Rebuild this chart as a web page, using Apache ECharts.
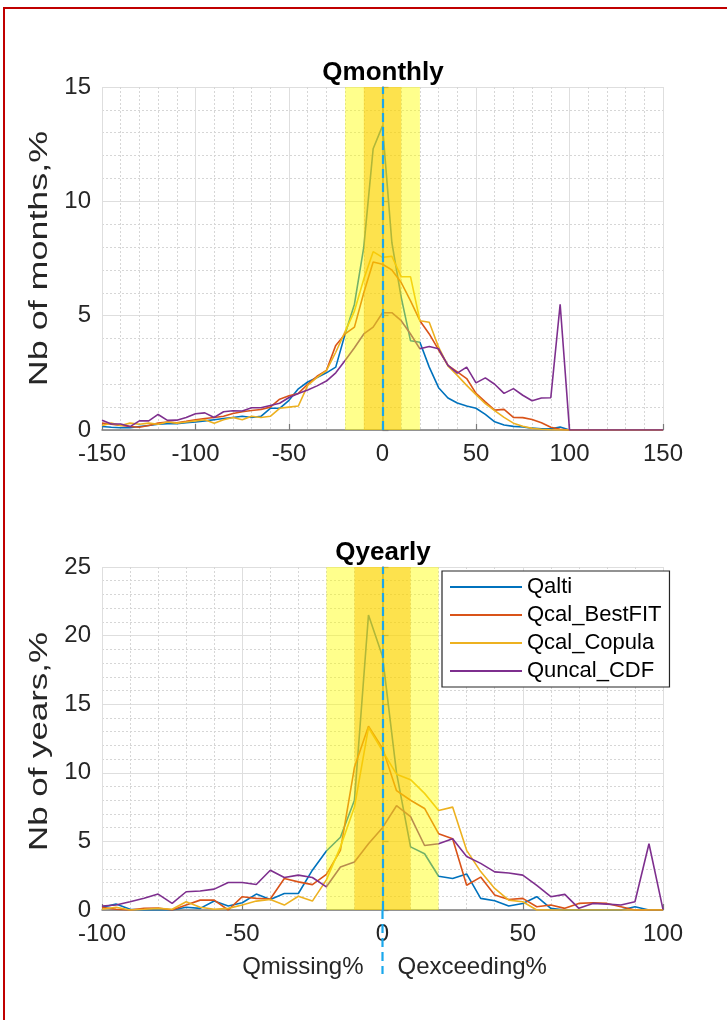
<!DOCTYPE html>
<html>
<head>
<meta charset="utf-8">
<script src="https://cdn.jsdelivr.net/npm/echarts@6/dist/echarts.min.js"></script>
<style>
html,body{margin:0;padding:0;background:#fff;}
#c{width:727px;height:1020px;}
</style>
</head>
<body>
<div id="c"></div>
<script>
// ---------- DATA ----------
const seriesNames = ['Qalti', 'Qcal_BestFIT', 'Qcal_Copula', 'Quncal_CDF'];

// Monthly: bins from -150 to 150, step 5
const monthlyX = [-150,-145,-140,-135,-130,-125,-120,-115,-110,-105,-100,-95,-90,-85,-80,-75,-70,-65,-60,-55,-50,-45,-40,-35,-30,-25,-20,-15,-10,-5,0,5,10,15,20,25,30,35,40,45,50,55,60,65,70,75,80,85,90,95,100,105,110,115,120,125,130,135,140,145,150];
const monthlyQalti = [0.15,0.12,0.1,0.1,0.15,0.2,0.25,0.28,0.28,0.32,0.35,0.4,0.45,0.5,0.55,0.6,0.55,0.6,0.95,0.95,1.3,1.8,2.1,2.3,2.5,2.75,4.2,5.5,8.0,12.3,13.3,8.2,5.8,3.9,3.84,2.75,1.85,1.4,1.18,1.05,0.95,0.68,0.36,0.22,0.16,0.13,0.08,0.05,0.05,0.13,0,0,0,0,0,0,0,0,0,0,0];
const monthlyBestFit = [0.3,0.25,0.2,0.15,0.12,0.2,0.3,0.35,0.32,0.38,0.45,0.5,0.55,0.6,0.72,0.8,0.85,0.9,1.0,1.35,1.5,1.6,2.0,2.35,2.6,3.7,4.2,4.5,6.0,7.35,7.25,7.0,6.45,5.65,4.78,4.2,3.5,2.83,2.54,2.25,1.6,1.23,0.87,0.9,0.55,0.54,0.46,0.32,0.12,0.03,0,0,0,0,0,0,0,0,0,0,0];
const monthlyCopula = [0.2,0.3,0.2,0.3,0.25,0.3,0.25,0.35,0.3,0.35,0.4,0.45,0.3,0.45,0.55,0.45,0.6,0.55,0.6,0.95,1.0,1.05,1.95,2.3,2.6,3.4,4.3,5.2,6.6,7.8,7.55,7.6,6.7,6.7,4.78,4.71,3.62,2.8,2.39,1.95,1.55,1.15,0.85,0.55,0.3,0.16,0.07,0.03,0.01,0,0,0,0,0,0,0,0,0,0,0,0];
const monthlyUncal = [0.43,0.26,0.26,0.15,0.4,0.4,0.68,0.42,0.43,0.55,0.71,0.75,0.55,0.8,0.84,0.83,0.97,0.97,1.07,1.17,1.42,1.6,1.75,1.93,2.14,2.5,3.04,3.6,4.2,4.5,5.13,5.13,4.78,4.2,3.55,3.65,3.55,2.83,2.49,2.75,2.06,2.28,2.0,1.6,1.81,1.52,1.28,1.4,1.41,5.5,0,0,0,0,0,0,0,0,0,0,0];

// Yearly: bins from -100 to 100, step 5
const yearlyX = [-100,-95,-90,-85,-80,-75,-70,-65,-60,-55,-50,-45,-40,-35,-30,-25,-20,-15,-10,-5,0,5,10,15,20,25,30,35,40,45,50,55,60,65,70,75,80,85,90,95,100];
const yearlyQalti = [0.2,0.43,0.05,0,0,0,0.2,0.12,0.65,0.29,0.53,1.16,0.77,1.2,1.2,2.9,4.3,5.3,8.0,21.5,18.5,10.0,4.6,4.1,2.46,2.3,2.63,0.85,0.68,0.29,0.48,0.97,0.12,0,0,0,0,0,0.24,0,0];
const yearlyBestFit = [0.19,0.05,0,0.12,0.14,0,0.36,0.72,0.72,0,0.97,0.85,0.8,2.3,2.05,1.85,2.6,4.35,10.4,13.4,11.8,8.7,8.0,7.4,5.56,5.2,1.8,2.4,1.09,0.77,0.85,0.24,0.36,0.12,0.48,0.53,0.48,0.24,0,0,0];
const yearlyCopula = [0.05,0.2,0,0.05,0.12,0.05,0.6,0.2,0.05,0.12,0.36,0.65,0.77,0.36,1.0,0.65,2.2,4.6,7.5,13.3,11.6,9.9,9.5,8.5,7.25,7.5,4.35,2.8,1.57,0.72,0.6,0,0,0,0,0,0,0,0,0,0];
const yearlyUncal = [0.29,0.36,0.6,0.85,1.16,0.48,1.33,1.38,1.52,2.0,2.0,1.86,2.9,2.37,2.54,2.37,1.69,3.14,3.5,4.83,6.0,7.6,6.8,4.7,4.83,5.2,3.9,3.4,2.78,2.7,2.54,1.8,0.97,1.14,0.12,0.48,0.43,0.36,0.6,4.83,0.05];

// Bands around zero (percent): [start, end]
const bands = [[-20, 20], [-10, 10]];

// ---------- STYLE ----------
const FONT = "'Liberation Sans', Arial, Helvetica, sans-serif";
const colors = ['#0072BD', '#D95319', '#EDB120', '#7E2F8E'];
const bandColors = ['rgba(255,255,0,0.45)', 'rgba(250,190,0,0.45)'];
const zeroLineColor = '#1AA7EC';
const textColor = '#262626';
const axisColor = '#7a7a7a';

function pairs(xs, ys) { return xs.map((x, i) => [x, ys[i]]); }

function xAxisCfg(idx, min, max) {
  return {
    gridIndex: idx, type: 'value', min: min, max: max, interval: 50,
    axisLine: { show: true, onZero: false, lineStyle: { color: axisColor, width: 1.5 } },
    axisTick: { show: true, inside: true, length: 6, lineStyle: { color: axisColor, width: 1.2 } },
    axisLabel: { fontSize: 24, color: textColor, fontFamily: FONT, margin: 12, showMinLabel: true, showMaxLabel: true },
    splitLine: { show: true, lineStyle: { color: '#dedede', width: 1 } },
    minorTick: { show: false, splitNumber: 5 },
    minorSplitLine: { show: true, lineStyle: { color: '#d6d6d6', width: 1, type: [2, 2] } }
  };
}
function yAxisCfg(idx, max) {
  return {
    gridIndex: idx, type: 'value', min: 0, max: max, interval: 5,
    axisLine: { show: true, lineStyle: { color: axisColor, width: 1.5 } },
    axisTick: { show: true, inside: true, length: 6, lineStyle: { color: axisColor, width: 1.2 } },
    axisLabel: { fontSize: 24, color: textColor, fontFamily: FONT, margin: 11 },
    splitLine: { show: true, lineStyle: { color: '#dedede', width: 1 } },
    minorTick: { show: false, splitNumber: 5 },
    minorSplitLine: { show: true, lineStyle: { color: '#d6d6d6', width: 1, type: [2, 2] } }
  };
}

function lineSeries(name, idx, xs, ys, color) {
  return {
    name: name, type: 'line', xAxisIndex: idx, yAxisIndex: idx,
    data: pairs(xs, ys), symbol: 'none', z: 2,
    lineStyle: { color: color, width: 1.6 }, itemStyle: { color: color },
    animation: false
  };
}

// translucent bands drawn on top of the lines (like the reference), plus dashed zero line
function bandSeries(idx) {
  return {
    type: 'custom', xAxisIndex: idx, yAxisIndex: idx, z: 10, silent: true,
    data: bands.map((b, k) => [b[0], b[1], k]),
    encode: { x: [0, 1] },
    renderItem: function (params, api) {
      const a = api.coord([api.value(0), 0]);
      const b = api.coord([api.value(1), 0]);
      const cs = params.coordSys;
      return {
        type: 'rect',
        shape: { x: a[0], y: cs.y, width: b[0] - a[0], height: cs.height },
        style: { fill: bandColors[api.value(2)] }
      };
    },
    markLine: {
      silent: true, symbol: ['none', 'none'], label: { show: false }, z: 12,
      lineStyle: { color: zeroLineColor, width: 2.2, type: [9, 5] },
      data: [{ xAxis: 0 }]
    },
    animation: false
  };
}

const chart = echarts.init(document.getElementById('c'), null, { renderer: 'canvas' });

const series = [];
[monthlyQalti, monthlyBestFit, monthlyCopula, monthlyUncal].forEach((a, k) =>
  series.push(lineSeries(seriesNames[k], 0, monthlyX, a, colors[k])));
series.push(bandSeries(0));
[yearlyQalti, yearlyBestFit, yearlyCopula, yearlyUncal].forEach((a, k) =>
  series.push(lineSeries(seriesNames[k], 1, yearlyX, a, colors[k])));
series.push(bandSeries(1));

const option = {
  backgroundColor: '#fff',
  animation: false,
  title: [
    { text: 'Qmonthly', left: 378, top: 55, textAlign: 'center',
      textStyle: { fontSize: 26, fontWeight: 'bold', color: '#000', fontFamily: FONT } },
    { text: 'Qyearly', left: 378, top: 535, textAlign: 'center',
      textStyle: { fontSize: 26, fontWeight: 'bold', color: '#000', fontFamily: FONT } }
  ],
  grid: [
    { left: 102, top: 87, width: 561, height: 343 },
    { left: 102, top: 567, width: 561, height: 343 }
  ],
  xAxis: [xAxisCfg(0, -150, 150), xAxisCfg(1, -100, 100)],
  yAxis: [yAxisCfg(0, 15), yAxisCfg(1, 25)],
  legend: {
    data: seriesNames, orient: 'vertical', left: 442, top: 571,
    backgroundColor: '#fff', borderColor: '#262626', borderWidth: 1.2,
    padding: [5, 8, 5, 8], itemGap: 6, itemWidth: 72, itemHeight: 2,
    icon: 'rect',
    textStyle: { fontSize: 22, color: '#000', fontFamily: FONT, padding: [0, 0, 0, 0] }
  },
  series: series
};
chart.setOption(option);

// annotations positioned from the axes
const top0 = chart.convertToPixel({ xAxisIndex: 0, yAxisIndex: 0 }, [0, 7.5]);
const bot0 = chart.convertToPixel({ xAxisIndex: 1, yAxisIndex: 1 }, [0, 0]);
const bot1 = chart.convertToPixel({ xAxisIndex: 1, yAxisIndex: 1 }, [0, 12.5]);
chart.setOption({
  graphic: [
    { type: 'rect', z: 100, silent: true,
      shape: { x: 4, y: 8, width: 780, height: 1060 },
      style: { fill: 'none', stroke: '#C00000', lineWidth: 2 } },
    { type: 'line', z: 50, silent: true,
      shape: { x1: bot0[0], y1: bot0[1], x2: bot0[0], y2: bot0[1] + 64 },
      style: { stroke: zeroLineColor, lineWidth: 2.2, lineDash: [9, 5] } },
    { type: 'text', z: 50, x: bot0[0] - 19, y: bot0[1] + 57, silent: true,
      style: { text: 'Qmissing%', fontSize: 24, fill: textColor, fontFamily: FONT, align: 'right', verticalAlign: 'middle' } },
    { type: 'text', z: 50, x: bot0[0] + 15, y: bot0[1] + 57, silent: true,
      style: { text: 'Qexceeding%', fontSize: 24, fill: textColor, fontFamily: FONT, align: 'left', verticalAlign: 'middle' } },
    { type: 'text', z: 50, x: 40, y: top0[1], rotation: Math.PI / 2, scaleX: 1.38, silent: true,
      style: { text: 'Nb of months,%', fontSize: 26, fill: textColor, fontFamily: FONT, align: 'center', verticalAlign: 'middle' } },
    { type: 'text', z: 50, x: 40, y: bot1[1] + 3, rotation: Math.PI / 2, scaleX: 1.34, silent: true,
      style: { text: 'Nb of years,%', fontSize: 26, fill: textColor, fontFamily: FONT, align: 'center', verticalAlign: 'middle' } }
  ]
});
</script>
</body>
</html>
